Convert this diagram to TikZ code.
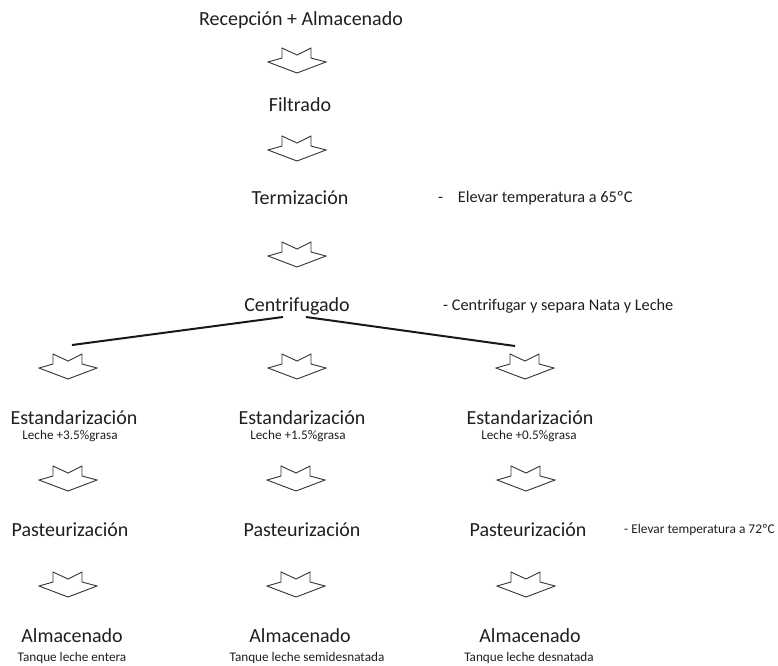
\documentclass[tikz,border=0pt]{standalone}
\usepackage{fontspec}
\setmainfont{Carlito}
\begin{document}
\begin{tikzpicture}[x=1pt,y=-1pt,
  lbl/.style={font=\fontsize{20}{22}\selectfont, text=black!88, inner sep=0pt},
  sub/.style={font=\fontsize{13.2}{15}\selectfont, text=black!88, inner sep=0pt},
  note/.style={font=\fontsize{16.3}{18}\selectfont, text=black!88, inner sep=0pt, anchor=west},
  notesm/.style={font=\fontsize{13.4}{15}\selectfont, text=black!88, inner sep=0pt, anchor=west},
  branch/.style={line width=2pt, black!90},
  darrow/.pic={\draw[black!80, line width=0.9pt, line join=miter, fill=white]
     (-29,14) -- (-15,10) -- (-15,0) -- (0,7) -- (14,0) -- (14,10) -- (29,14) -- (0,25) -- cycle;}
]
\useasboundingbox (0,0) rectangle (778,665);
% main column
\node[lbl] (rec) at (301,20) {Recepción + Almacenado};
\pic at (297,48) {darrow};
\node[lbl] (fil) at (300,105) {Filtrado};
\pic at (297,136) {darrow};
\node[lbl] (ter) at (300,198) {Termización};
\node[note] (n1) at (438,198) {-\hspace{0.9em}Elevar temperatura a 65ºC};
\pic at (297,242) {darrow};
\node[lbl] (cen) at (297,306) {Centrifugado};
\node[note] (n2) at (443,306) {- Centrifugar y separa Nata y Leche};
% branch lines
\coordinate (bl) at (283,317);
\coordinate (br) at (306,317);
\coordinate (el) at (72,345);
\coordinate (er) at (515,346);
\draw[branch] (bl) -- (el);
\draw[branch] (br) -- (er);
% row arrows
\pic at (68,354) {darrow};
\pic at (297,354) {darrow};
\pic at (525,354) {darrow};
% Estandarizacion
\node[lbl] (e1) at (74,418) {Estandarización};
\node[lbl] (e2) at (302,418) {Estandarización};
\node[lbl] (e3) at (530,418) {Estandarización};
\node[sub] (s1) at (70,436) {Leche +3.5\%grasa};
\node[sub] (s2) at (298,436) {Leche +1.5\%grasa};
\node[sub] (s3) at (529,436) {Leche +0.5\%grasa};
\pic at (68,466) {darrow};
\pic at (296,466) {darrow};
\pic at (526,466) {darrow};
% Pasteurizacion
\node[lbl] (p1) at (70,530) {Pasteurización};
\node[lbl] (p2) at (302,530) {Pasteurización};
\node[lbl] (p3) at (528,530) {Pasteurización};
\node[notesm] (n3) at (624,530) {- Elevar temperatura a 72ºC};
\pic at (68,572) {darrow};
\pic at (296,572) {darrow};
\pic at (526,572) {darrow};
% Almacenado
\node[lbl] (a1) at (72,636) {Almacenado};
\node[lbl] (a2) at (300,636) {Almacenado};
\node[lbl] (a3) at (530,636) {Almacenado};
\node[sub] (t1) at (72,658) {Tanque leche entera};
\node[sub] (t2) at (307,658) {Tanque leche semidesnatada};
\node[sub] (t3) at (529,658) {Tanque leche desnatada};
\end{tikzpicture}
\end{document}
